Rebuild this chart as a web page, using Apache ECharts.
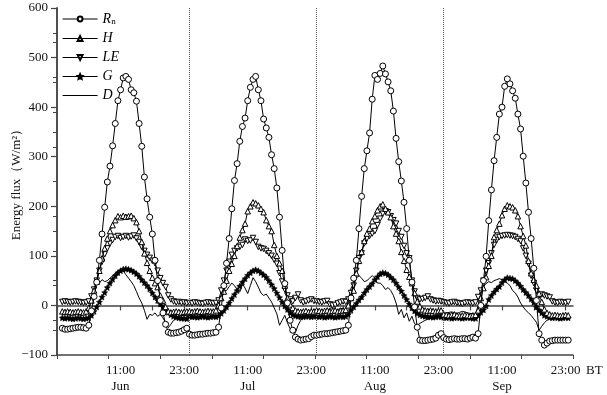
<!DOCTYPE html>
<html>
<head>
<meta charset="utf-8">
<script src="https://cdn.jsdelivr.net/npm/echarts@6/dist/echarts.min.js"></script>
<style>
  html, body { margin: 0; padding: 0; background: #fff; }
  #main { width: 607px; height: 395px; }
</style>
</head>
<body>
<div id="main"></div>
<script>
'use strict';
// one row per month, 48 half-hourly values (00:00 ... 23:30), W/m2
var months = ['Jun', 'Jul', 'Aug', 'Sep'];
var yTicks = [-100, 0, 100, 200, 300, 400, 500, 600];
var dayBreaks = [25, 49, 73]; // midnights, hours after 23:00 of the day before

var rn = [
    [-46,-48,-48,-47,-46,-45,-44,-44,-45,-46, -40,-11,18,47,91,144,198,249,281,322,
     367,413,435,459,462,456,435,429,412,367, 321,259,215,178,144,91,50,10,-15,-38,
     -54,-56,-56,-55,-54,-52,-49,-46],
    [-58,-60,-60,-59,-58,-58,-57,-56,-56,-55,-54, -44,-5,40,85,135,
     195,252,286,331,361,378,413,440,456,462,435,413,376,358,339,304,276,237,178,111,44,5,-30,-50,
     -64,-68,-70,-69,-68,-67,-63,-60],
    [-60,-59,-58,-57,-57,-56,-55,-54,-53,-52,-51,-50, -40,15,55,91,155,220,276,312,348,416,464,456,
     468,483,467,451,433,392,337,290,251,208,155,91, 47,-3,-44,-70,-71,-71,-70,-69,-68,-66,-60,-57],
    [-65,-68,-69,-68,-67,-68,-68,-67,-67,-68,-66,-64, -66,-57, 0,50,99,171,233,292,339,386,400,442,
     457,447,433,418,386,356,301,247,188,135,75,10, -57,-70,-80,-76,-72,-71,-70,-70,-70,-70,-70,-70]
];
var h = [
    [-12,-13,-12,-13,-14,-13,-12,-13,-14,-12, -5,10,30,48,70,95,115,135,150,162,
     172,180,178,181,179,180,181,176,168,150, 128,105,86,70,56,45,37,20,10,-3,
     -12,-14,-13,-12,-13,-14,-13,-12],
    [-12,-13,-12,-11,-12,-13,-12,-11,-12,-12,-10, 0,15,28,50,70,84,100,120,137,152,
     165,190,200,208,206,202,195,188,172,160, 150,122,100,85,70,40,15,2,-5,-10,
     -12,-13,-12,-11,-13,-12,-12],
    [-10,-11,-12,-11,-10,-12,-11,-10,-12,-11,-10,-9, 0,15,30,65,90,108,130,145,155,170,180,192,
     200,204,195,188,178,160,145,130,108,90,72,58, 45,25,8,-2,-8,-10,-11,-10,-11,-12,-11,-10],
    [-18,-19,-20,-19,-18,-20,-21,-20,-19,-20,-21,-20,-19, -10,15,35,57,80,100,138,152,165,182,195,
     202,200,198,192,180,160,140,121,90,65,52,40, 24,7,-8,-15,-18,-20,-19,-20,-21,-20,-19,-20]
];
var le = [
    [7,8,7,6,7,8,7,6,5,6, 8,18,32,50,70,88,103,115,125,132,
     138,140,136,138,140,137,139,141,135,128, 118,110,102,96,90,85,70,55,45,37,
     20,12,8,6,7,5,6,4],
    [5,4,6,5,4,3,5,6,5,4,5, 10,30,50,70,88,102,110,115,118,122,
     133,130,131,136,128,118,115,114,110,105, 100,92,84,65,48,32,20,12,8,15,
     22,10,6,8,10,12,9],
    [8,7,6,8,9,2,0,1,4,6,8,7, 12,25,40,70,95,105,125,135,140,145,150,162,
     175,185,190,188,180,172,165,150,138,120,105,95, 50,28,15,12,13,15,18,12,10,8,9,8],
    [6,5,4,6,7,5,4,3,5,6,5,4,6, 17,30,50,70,85,105,122,132,138,140,141,
     142,141,140,138,134,130,115,100,84,60,45,30, 20,22,20,18,16,8,6,5,7,6,5,7]
];
var g = [
    [-25,-26,-25,-26,-27,-26,-25,-26,-27,-26, -25,-20,-12,-3,7,17,26,36,45,53,
     60,66,70,73,74,73,71,68,64,59, 52,46,40,33,25,17,10,3,-3,-9,
     -14,-19,-22,-24,-25,-26,-26,-27],
    [-22,-23,-23,-24,-23,-22,-23,-24,-23,-22,-23, -21,-16,-10,-3,5,14,22,30,39,47,
     54,61,66,70,72,70,66,62,57,50, 42,34,25,16,7,-1,-8,-14,-19,-21,
     -22,-23,-23,-22,-22,-23,-22],
    [-22,-23,-22,-24,-23,-22,-23,-24,-23,-22,-23,-22, -18,-10,-3,4,11,17,25,32,38,44,52,58,
     64,66,65,62,57,52,45,37,29,20,12,3, -5,-11,-16,-19,-21,-22,-23,-23,-24,-23,-22,-23],
    [-24,-25,-24,-26,-25,-24,-25,-26,-25,-24,-25,-26,-26, -20,-14,-9,-1,12,20,27,33,38,46,52,
     56,55,54,50,45,39,32,26,20,13,6,-3, -9,-15,-20,-22,-24,-25,-24,-25,-26,-25,-24,-25]
];
var d = [
    [-18,-19,-18,-20,-19,-18,-19,-20,-19,-18, -10,15,35,48,45,52,48,50,55,60,
     65,70,72,70,62,55,48,40,28,15, 5,-10,-28,-18,-20,-15,-22,-18,-25,-35,
     -45,-38,-30,-25,-22,-20,-21,-20],
    [-17,-18,-17,-18,-19,-18,-17,-18,-18,-17,-15, 0,20,30,30,38,45,40,32,27,43,
     35,24,40,56,48,37,25,20,23,15, 7,-5,-17,-40,-30,-20,-35,-47,-52,-55,
     -40,-30,-18,-20,-19,-18,-20],
    [-16,-15,-14,-12,-10,-6,-4,-8,-10,-5,-8,-10, 10,35,44,55,60,55,48,50,55,60,55,45,
     45,40,32,36,30,20,5,-18,-8,-25,-15,-32, -22,-37,-40,-36,-33,-30,-28,-24,-22,-20,-19,-18],
    [-16,-15,-14,-13,-15,-16,-14,-12,-13,-15,-16,-17,-18, 0,30,38,44,48,46,50,52,54,52,48,
     45,40,30,25,17,5,-3,-10,-15,-20,-27,-34, -50,-42,-35,-30,-27,-24,-22,-20,-21,-20,-21,-20]
];

var FONT = 'Liberation Serif';
var STAR = 'path://M0,-10L2.9,-4L9.5,-3.1L4.7,1.5L5.9,8.1L0,5L-5.9,8.1L-4.7,1.5L-9.5,-3.1L-2.9,-4Z';

// [hour, value] pairs; x = 1 is 00:00 of the first day
function toPoints(days) {
    var pts = [];
    days.forEach(function (day, i) {
        day.forEach(function (v, k) {
            pts.push([1 + 24 * i + k / 2, v]);
        });
    });
    return pts;
}

function lineSeries(name, days, symbol, extra) {
    var s = {
        name: name,
        type: 'line',
        data: toPoints(days),
        symbol: symbol,
        symbolSize: 5.5,
        showAllSymbol: true,
        lineStyle: { color: '#000', width: 1 },
        itemStyle: { color: '#fff', borderColor: '#000', borderWidth: 1 },
        animation: false
    };
    for (var key in extra) s[key] = extra[key];
    return s;
}

var chart = echarts.init(document.getElementById('main'));
var option = {
    backgroundColor: '#fff',
    textStyle: { fontFamily: FONT },
    grid: { left: 57, right: 34, top: 8, bottom: 40, outerBoundsMode: 'none', containLabel: false },
    legend: {
        orient: 'vertical',
        left: 62,
        top: 12,
        padding: 0,
        itemWidth: 35,
        itemHeight: 6,
        itemGap: 5,
        lineStyle: { width: 1.2 },
        data: ['Rn', 'H', 'LE', 'G',
            { name: 'D', icon: 'path://M0,0H38V1H0Z', itemStyle: { color: '#000', borderWidth: 0 } }],
        formatter: function (name) {
            if (name === 'Rn') return '{it|R}{sub|n}';
            return '{it|' + name + '}';
        },
        textStyle: {
            color: '#000',
            fontFamily: FONT,
            rich: {
                it: { fontStyle: 'italic', fontSize: 14, fontFamily: FONT, color: '#000', height: 14 },
                sub: { fontSize: 9, fontFamily: FONT, color: '#000', padding: [6, 0, 0, 0] }
            }
        }
    },
    xAxis: [{
        type: 'value',
        min: 0,
        max: 97.4,
        interval: 6,
        axisLine: { lineStyle: { color: '#444', width: 1.5 } },
        axisTick: { length: 5, lineStyle: { color: '#444', width: 1.2 } },
        splitLine: { show: false },
        axisLabel: {
            color: '#111',
            fontSize: 13,
            fontFamily: FONT,
            lineHeight: 16,
            margin: 8,
            showMaxLabel: false,
            formatter: function (v) {
                if (v % 24 === 12) return '11:00\n' + months[(v - 12) / 24];
                if (v > 0 && v % 24 === 0) return '23:00';
                return '';
            }
        }
    }, {
        type: 'value',
        position: 'top',
        min: 0,
        max: 10,
        interval: 1,
        axisLine: { lineStyle: { color: '#444', width: 1.5 } },
        axisTick: { inside: true, length: 4, lineStyle: { color: '#444' } },
        axisLabel: { show: false },
        splitLine: { show: false }
    }],
    yAxis: [{
        type: 'value',
        min: yTicks[0],
        max: yTicks[yTicks.length - 1],
        interval: 100,
        name: 'Energy flux（W/m²）',
        nameLocation: 'middle',
        nameGap: 34,
        nameMoveOverlap: false,
        nameTextStyle: { color: '#111', fontSize: 13, fontFamily: FONT },
        axisLine: { show: true, lineStyle: { color: '#444', width: 1.5 } },
        axisTick: { show: true, length: 6, lineStyle: { color: '#444', width: 1.2 } },
        minorTick: { show: true, splitNumber: 2, length: 4, lineStyle: { color: '#444' } },
        splitLine: { show: false },
        axisLabel: {
            color: '#111',
            fontSize: 13,
            fontFamily: FONT,
            margin: 9,
            formatter: function (v) { return String(v).replace('-', '\u2212'); }
        }
    }, {
        type: 'value',
        position: 'right',
        min: 0,
        max: 10,
        interval: 1,
        axisLine: { show: true, lineStyle: { color: '#444', width: 1.5 } },
        axisTick: { show: true, inside: true, length: 4, lineStyle: { color: '#444' } },
        axisLabel: { show: false },
        splitLine: { show: false }
    }],
    graphic: [{
        type: 'text',
        left: 586,
        top: 364,
        style: { text: 'BT', fill: '#111', font: '13px "Liberation Serif"' }
    }],
    series: [
        lineSeries('D', d, 'none', { z: 2 }),
        lineSeries('G', g, STAR, { z: 3, symbolSize: 6, itemStyle: { color: '#000', borderColor: '#000', borderWidth: 0.5 } }),
        lineSeries('LE', le, 'triangle', { z: 4, symbolRotate: 180 }),
        lineSeries('H', h, 'triangle', { z: 5 }),
        lineSeries('Rn', rn, 'circle', {
            z: 6,
            symbolSize: 6,
            markLine: {
                silent: true,
                symbol: ['none', 'none'],
                label: { show: false },
                lineStyle: { type: 'dotted', color: '#555', width: 1 },
                data: dayBreaks.map(function (x) { return { xAxis: x }; })
            }
        })
    ]
};
chart.setOption(option);
</script>
</body>
</html>
